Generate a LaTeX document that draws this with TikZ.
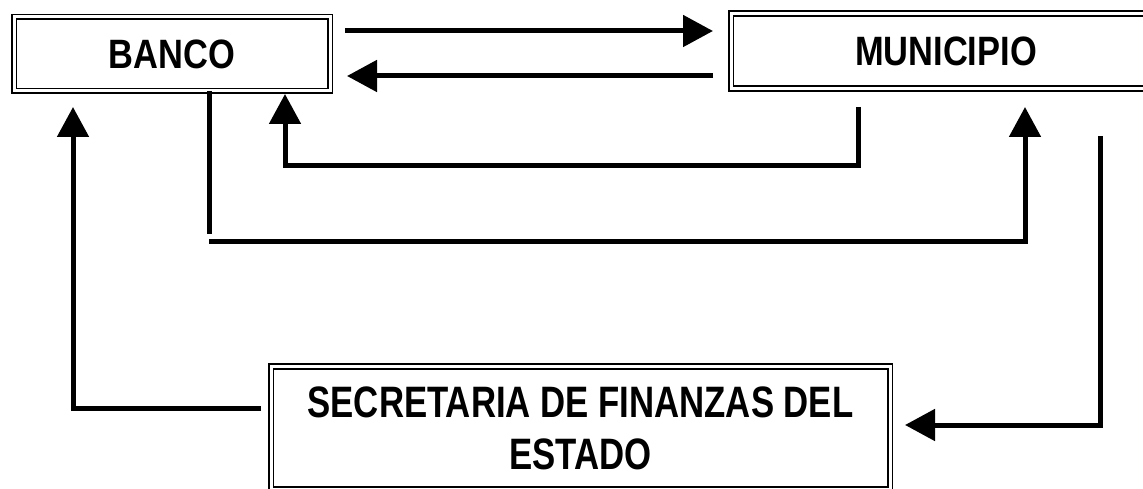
\documentclass[tikz,border=0pt]{standalone}
\usepackage{fontspec}
\setmainfont{Liberation Sans}
\newfontfamily\fonttop{Liberation Sans}[FakeStretch=0.84]
\newfontfamily\fontsec{Liberation Sans}[FakeStretch=0.79]
\usetikzlibrary{arrows.meta}
\begin{document}
\begin{tikzpicture}[x=1pt,y=-1pt,
  boxnode/.style={draw=black, line width=1.7pt, double=white, double distance=3pt,
    rectangle, inner sep=0pt, align=center},
  topfont/.style={font=\fonttop\bfseries\fontsize{41}{48}\selectfont},
  secfont/.style={font=\fontsec\bfseries\fontsize{44}{52}\selectfont},
  conn/.style={line width=5pt, line join=miter},
  arr/.style={conn, -{Triangle[length=30pt,width=31pt]}}]
\useasboundingbox[fill=white] (0,0) rectangle (1143,489);
% boxes
\node[boxnode, topfont, minimum width=316pt, minimum height=74pt] (banco) at (172,54) {BANCO};
\node[boxnode, topfont, minimum width=430pt, minimum height=75pt] (muni) at (946,51) {MUNICIPIO};
\node[boxnode, secfont, minimum width=619pt, minimum height=123pt] (sec) at (580.5,428) {SECRETARIA DE FINANZAS DEL\\ESTADO};
% connector points
\coordinate (a1s) at (345,31);  \coordinate (a1e) at (713,31);
\coordinate (a2s) at (713,76);  \coordinate (a2e) at (347,76);
\coordinate (a3s) at (261,408); \coordinate (a3c) at (73,408); \coordinate (a3e) at (73,107);
\coordinate (a4s) at (209,91);  \coordinate (a4m) at (209,234);
\coordinate (a4h) at (209,241); \coordinate (a4c) at (1025,241); \coordinate (a4e) at (1025,107);
\coordinate (a5s) at (858,107); \coordinate (a5c) at (858,166); \coordinate (a5d) at (285,166); \coordinate (a5e) at (285,94);
\coordinate (a6s) at (1100,136); \coordinate (a6c) at (1100,425); \coordinate (a6e) at (905,425);
% connectors
\draw[arr] (a1s) -- (a1e);
\draw[arr] (a2s) -- (a2e);
\draw[arr] (a3s) -- (a3c) -- (a3e);
\draw[conn] (a4s) -- (a4m);
\draw[arr] (a4h) -- (a4c) -- (a4e);
\draw[arr] (a5s) -- (a5c) -- (a5d) -- (a5e);
\draw[arr] (a6s) -- (a6c) -- (a6e);
\end{tikzpicture}
\end{document}
